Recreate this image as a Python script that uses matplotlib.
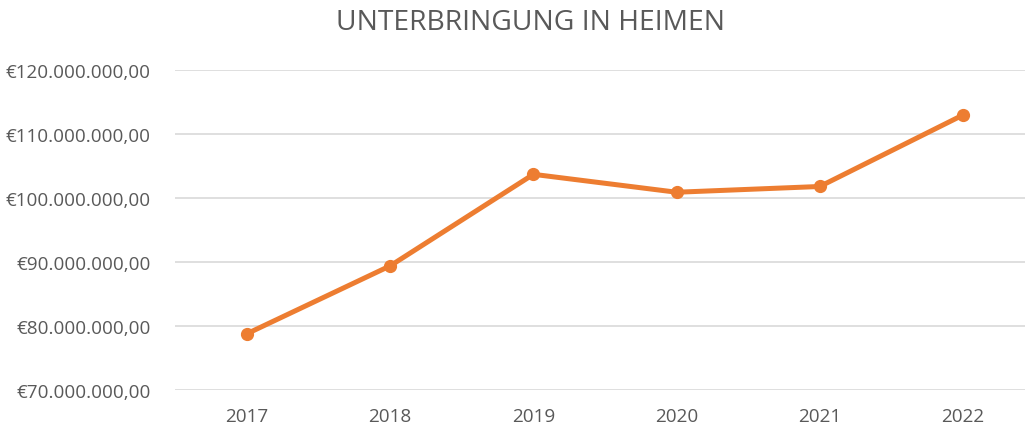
import matplotlib
matplotlib.use("Agg")
import matplotlib.pyplot as plt
from matplotlib.ticker import FuncFormatter

plt.rcParams['font.family'] = ['Open Sans', 'DejaVu Sans']

years = ['2017', '2018', '2019', '2020', '2021', '2022']
costs = [78.8e6, 89.4e6, 103.7e6, 100.9e6, 101.8e6, 112.97e6]
y_ticks = [70e6, 80e6, 90e6, 100e6, 110e6, 120e6]

TEXT_GREY = '#595959'
LINE_ORANGE = '#ED7D31'


def euro_fmt(v, pos):
    s = f"{v:,.2f}"
    s = s.replace(',', 'X').replace('.', ',').replace('X', '.')
    return '\u20ac' + s


fig = plt.figure(figsize=(10.25, 4.27), dpi=100)
ax = fig.add_axes([175.4 / 1025, 1 - 391 / 427, 859.2 / 1025, 320 / 427])

x = range(len(years))
ax.plot(x, costs, color=LINE_ORANGE, linewidth=3.6, marker='o',
        markersize=8.5, solid_capstyle='round', zorder=3)

ax.set_xlim(-0.5, len(years) - 0.5)
ax.set_ylim(70e6, 120e6)
ax.set_yticks(y_ticks)
ax.yaxis.set_major_formatter(FuncFormatter(euro_fmt))
ax.set_xticks(list(x))
ax.set_xticklabels(years)

ax.grid(axis='y', color='#D9D9D9', linewidth=1.2)
ax.set_axisbelow(True)
for sp in ax.spines.values():
    sp.set_visible(False)
ax.tick_params(axis='both', length=0, colors=TEXT_GREY, labelsize=13.6)
ax.tick_params(axis='y', pad=18)
ax.tick_params(axis='x', pad=12)

fig.text(0.518, 1 - 23 / 427, 'UNTERBRINGUNG IN HEIMEN', ha='center', va='center',
         fontsize=20.3, color=TEXT_GREY)

fig.savefig('out.png', dpi=100)
